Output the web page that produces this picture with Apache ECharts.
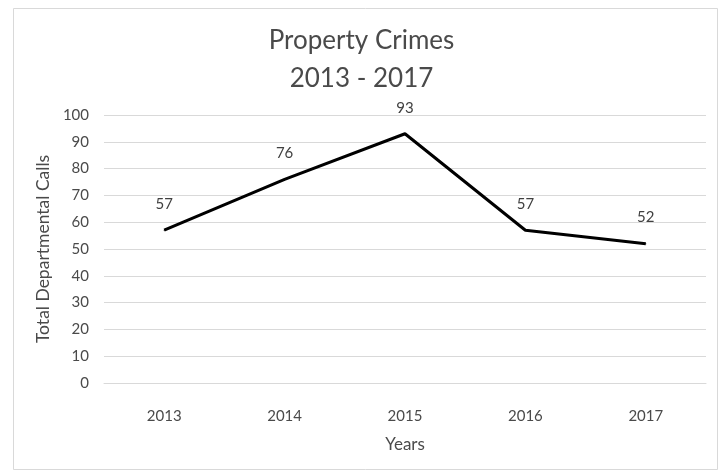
<!DOCTYPE html>
<html>
<head>
<meta charset="utf-8">
<script src="https://cdn.jsdelivr.net/npm/echarts@6/dist/echarts.min.js"></script>
<style>html,body{margin:0;padding:0;background:#fff;}#c{width:723px;height:472px;}</style>
</head>
<body>
<div id="c"></div>
<script>
const years = ['2013', '2014', '2015', '2016', '2017'];
const calls = [57, 76, 93, 57, 52];
const titleText = 'Property Crimes\n2013 - 2017';
const yName = 'Total Departmental Calls';
const xName = 'Years';

const font = 'Lato, "Open Sans", sans-serif';
const chart = echarts.init(document.getElementById('c'), null, {renderer: 'canvas'});
chart.setOption({
  backgroundColor: '#fff',
  animation: false,
  graphic: [{
    type: 'rect', shape: {x: 13.5, y: 8.5, width: 704, height: 461},
    style: {fill: 'none', stroke: '#d9d9d9', lineWidth: 1}, silent: true, z: -1
  }],
  title: {
    text: titleText, left: 'center', top: 17,
    textStyle: {fontFamily: font, fontSize: 26, fontWeight: 'normal', color: '#4a4a4a', lineHeight: 38}
  },
  grid: {left: 104, right: 17, top: 115, bottom: 89},
  xAxis: {
    type: 'category', data: years, boundaryGap: true,
    name: xName, nameLocation: 'middle', nameGap: 53,
    nameTextStyle: {fontFamily: font, fontSize: 17, color: '#4a4a4a'},
    axisLine: {show: true, lineStyle: {color: '#d9d9d9', width: 1}},
    axisTick: {show: false},
    axisLabel: {fontFamily: font, fontSize: 15, color: '#4a4a4a', margin: 26}
  },
  yAxis: {
    type: 'value', min: 0, max: 100, interval: 10,
    name: yName, nameLocation: 'middle', nameGap: 52, nameRotate: 90,
    nameTextStyle: {fontFamily: font, fontSize: 17.5, color: '#4a4a4a'},
    axisLine: {show: false}, axisTick: {show: false},
    axisLabel: {fontFamily: font, fontSize: 15, color: '#4a4a4a', margin: 15},
    splitLine: {lineStyle: {color: '#d9d9d9', width: 1}}
  },
  series: [{
    type: 'line', data: calls, showSymbol: true, symbol: 'circle', symbolSize: 1,
    itemStyle: {color: '#000'},
    lineStyle: {color: '#000', width: 3},
    label: {show: true, position: 'top', distance: 18, fontFamily: font, fontSize: 15, color: '#404040'}
  }]
});
</script>
</body>
</html>
